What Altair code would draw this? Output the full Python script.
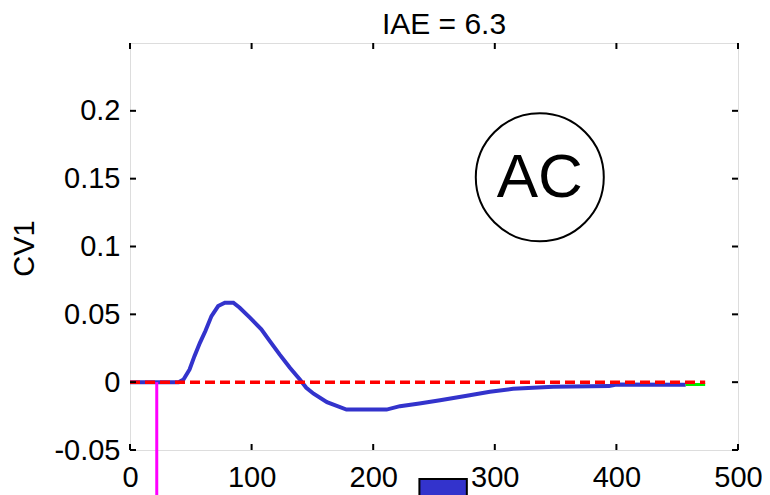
import altair as alt
import pandas as pd

# blue CV1 response
t = [0, 40, 44, 49, 53, 57.5, 62, 67, 72.5, 78, 85, 90, 98.6, 108, 115, 123, 131.5,
     139.7, 145, 151, 162, 178, 211, 222, 238, 255, 277, 296, 315, 348, 394, 400, 457]
cv1 = [0, 0, 0.002, 0.0094, 0.0192, 0.029, 0.0377, 0.0487, 0.0561, 0.0586, 0.0586,
       0.055, 0.0476, 0.039, 0.0303, 0.0205, 0.0106, 0.002, -0.0041, -0.0085, -0.0148,
       -0.0202, -0.0202, -0.0177, -0.0157, -0.0133, -0.0100, -0.0070, -0.0049, -0.0034,
       -0.0029, -0.0017, -0.0019]
# setpoint (red dashed)
sp_t = [0, 473]
sp_v = [0, 0]
# green tail
g_t = [457, 473]
g_v = [-0.0017, -0.0017]
# magenta event marker
ev_t = [22]
ev_y = [0]
ev_y2 = [-0.09]
# blue box below axis
box_x = [238]
box_x2 = [277]
box_y = [-0.0713]
box_y2 = [-0.095]
# circle label
lab_x = [337]
lab_y = [0.151]
lab_txt = ["AC"]

x_ticks = [0, 100, 200, 300, 400, 500]
y_ticks = [-0.05, 0, 0.05, 0.1, 0.15, 0.2]

W, H = 608, 407
FONT = "Liberation Sans"
FS = 29

xs = alt.Scale(domain=[0, 500], nice=False)
ys = alt.Scale(domain=[-0.05, 0.25], nice=False)

df = pd.DataFrame({"t": t, "v": cv1})
base_x = alt.X("t:Q", scale=xs, axis=alt.Axis(values=x_ticks, title=None, grid=False, domain=False,
                                             tickSize=0, labelPadding=13, labelFontSize=FS,
                                             labelFont=FONT, labelColor="black", labelFlush=False,
                                             labelOverlap=False))
base_y = alt.Y("v:Q", scale=ys, axis=alt.Axis(values=y_ticks, title="CV1", grid=False, domain=False,
                                             tickSize=0, labelPadding=10, labelFontSize=FS,
                                             labelFont=FONT, labelColor="black", labelFlush=False,
                                             labelOverlap=False,
                                             labelExpr="datum.value < 0 ? '-' + format(-datum.value, '.2~f') : format(datum.value, '.2~f')",
                                             titleFontSize=FS, titleFont=FONT, titleFontWeight="normal",
                                             titleColor="black", titleAngle=-90, titleX=-106, titleY=205,
                                             titleAlign="center", titleBaseline="middle"))

line = alt.Chart(df).mark_line(color="#3333cc", strokeWidth=4).encode(x=base_x, y=base_y)

green = alt.Chart(pd.DataFrame({"t": g_t, "v": g_v})).mark_line(color="#00ee00", strokeWidth=3).encode(
    x=alt.X("t:Q", scale=xs), y=alt.Y("v:Q", scale=ys))

red = alt.Chart(pd.DataFrame({"t": sp_t, "v": sp_v})).mark_line(
    color="#ff0000", strokeWidth=3.5, strokeDash=[10, 5]).encode(
    x=alt.X("t:Q", scale=xs), y=alt.Y("v:Q", scale=ys))

mag = alt.Chart(pd.DataFrame({"t": ev_t, "y": ev_y, "y2": ev_y2})).mark_rule(
    color="#ff00ff", strokeWidth=3, clip=False).encode(
    x=alt.X("t:Q", scale=xs), y=alt.Y("y:Q", scale=ys), y2="y2:Q")

box = alt.Chart(pd.DataFrame({"x": box_x, "x2": box_x2, "y": box_y, "y2": box_y2})).mark_rect(
    color="#3333cc", stroke="black", strokeWidth=2, clip=False).encode(
    x=alt.X("x:Q", scale=xs), x2="x2:Q", y=alt.Y("y:Q", scale=ys), y2="y2:Q")

lab = pd.DataFrame({"x": lab_x, "y": lab_y, "txt": lab_txt})
circ = alt.Chart(lab).mark_point(shape="circle", size=128 * 128, filled=False, color="black",
                                 strokeWidth=2, opacity=1).encode(
    x=alt.X("x:Q", scale=xs), y=alt.Y("y:Q", scale=ys))
txt = alt.Chart(lab).mark_text(fontSize=62, font=FONT, color="black", baseline="middle",
                               align="center", dy=1).encode(
    x=alt.X("x:Q", scale=xs), y=alt.Y("y:Q", scale=ys), text="txt:N")

xt = pd.DataFrame({"t": x_ticks})
yt = pd.DataFrame({"v": y_ticks})
tick_b = alt.Chart(xt).mark_rule(color="black", strokeWidth=2).encode(
    x=alt.X("t:Q", scale=xs), y=alt.value(H), y2=alt.value(H - 6))
tick_t = alt.Chart(xt).mark_rule(color="black", strokeWidth=2).encode(
    x=alt.X("t:Q", scale=xs), y=alt.value(0), y2=alt.value(6))
tick_l = alt.Chart(yt).mark_rule(color="black", strokeWidth=2).encode(
    y=alt.Y("v:Q", scale=ys), x=alt.value(0), x2=alt.value(6))
tick_r = alt.Chart(yt).mark_rule(color="black", strokeWidth=2).encode(
    y=alt.Y("v:Q", scale=ys), x=alt.value(W), x2=alt.value(W - 6))

chart = alt.layer(line, green, red, mag, box, circ, txt, tick_b, tick_t, tick_l, tick_r).properties(
    width=W, height=H,
    title=alt.TitleParams("IAE = 6.3", fontSize=30, font=FONT, fontWeight="normal", color="black",
                          anchor="middle", dx=10, offset=2),
    autosize=alt.AutoSizeParams(type="none"),
    padding={"left": 122, "top": 35, "right": 24, "bottom": 45},
).configure_view(stroke="black", strokeWidth=3).configure(background="white")

chart.save("out.html", embed_options={"renderer": "svg", "actions": False})
